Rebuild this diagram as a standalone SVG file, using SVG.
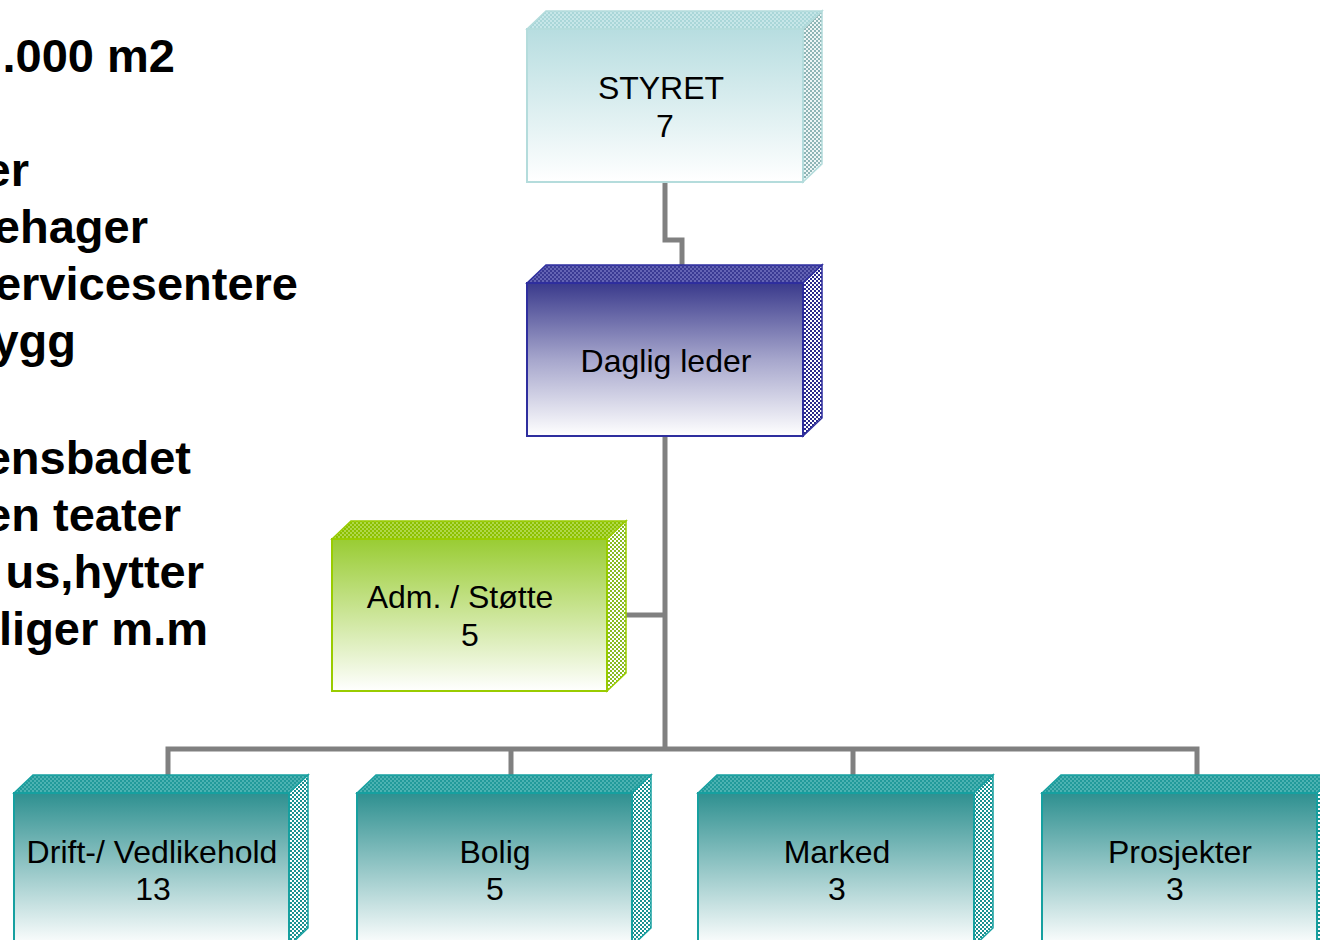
<svg xmlns="http://www.w3.org/2000/svg" width="1320" height="940" viewBox="0 0 1320 940">
<defs>
<style>
.lbl{font-family:"Liberation Sans",Arial,sans-serif;font-size:32px;fill:#000;text-anchor:middle}
.big{font-family:"Liberation Sans",Arial,sans-serif;font-size:47px;font-weight:bold;fill:#000;text-anchor:end}
.conn{fill:none;stroke:#808080;stroke-width:5}
</style>
<linearGradient id="gS" x1="0" y1="0" x2="0" y2="1"><stop offset="0" stop-color="#b7dde0"/><stop offset="1" stop-color="#ffffff"/></linearGradient>
<linearGradient id="gD" x1="0" y1="0" x2="0" y2="1"><stop offset="0" stop-color="#3a3a8c"/><stop offset="0.5" stop-color="#a6a6cc"/><stop offset="1" stop-color="#ffffff"/></linearGradient>
<linearGradient id="gA" x1="0" y1="0" x2="0" y2="1"><stop offset="0" stop-color="#99cc33"/><stop offset="1" stop-color="#ffffff"/></linearGradient>
<linearGradient id="gT" x1="0" y1="0" x2="0" y2="1"><stop offset="0" stop-color="#2e9090"/><stop offset="1" stop-color="#ffffff"/></linearGradient>
<pattern id="pSt" width="4" height="4" patternUnits="userSpaceOnUse"><rect width="4" height="4" fill="#c6e6e8"/><rect width="2" height="2" fill="#a9d6d8"/><rect x="2" y="2" width="2" height="2" fill="#a9d6d8"/></pattern>
<pattern id="pSs" width="4" height="4" patternUnits="userSpaceOnUse"><rect width="4" height="4" fill="#eef6f6"/><rect width="2" height="2" fill="#8fb5b6"/><rect x="2" y="2" width="2" height="2" fill="#8fb5b6"/></pattern>
<pattern id="pDt" width="4" height="4" patternUnits="userSpaceOnUse"><rect width="4" height="4" fill="#6464b4"/><rect width="2" height="2" fill="#3a3a94"/><rect x="2" y="2" width="2" height="2" fill="#3a3a94"/></pattern>
<pattern id="pDs" width="4" height="4" patternUnits="userSpaceOnUse"><rect width="4" height="4" fill="#ffffff"/><rect width="2" height="2" fill="#2a2a8a"/><rect x="2" y="2" width="2" height="2" fill="#2a2a8a"/></pattern>
<pattern id="pAt" width="4" height="4" patternUnits="userSpaceOnUse"><rect width="4" height="4" fill="#b0d84a"/><rect width="2" height="2" fill="#8cc000"/><rect x="2" y="2" width="2" height="2" fill="#8cc000"/></pattern>
<pattern id="pAs" width="4" height="4" patternUnits="userSpaceOnUse"><rect width="4" height="4" fill="#ffffff"/><rect width="2" height="2" fill="#88bb22"/><rect x="2" y="2" width="2" height="2" fill="#88bb22"/></pattern>
<pattern id="pTt" width="4" height="4" patternUnits="userSpaceOnUse"><rect width="4" height="4" fill="#4cb2b2"/><rect width="2" height="2" fill="#219a9a"/><rect x="2" y="2" width="2" height="2" fill="#219a9a"/></pattern>
<pattern id="pTs" width="4" height="4" patternUnits="userSpaceOnUse"><rect width="4" height="4" fill="#ffffff"/><rect width="2" height="2" fill="#1a9090"/><rect x="2" y="2" width="2" height="2" fill="#1a9090"/></pattern>
</defs>
<rect width="1320" height="940" fill="#ffffff"/>

<g id="sidetext">
<text class="big" x="175" y="72">.000 m2</text>
<text class="big" x="29" y="186">er</text>
<text class="big" x="148" y="243">ehager</text>
<text class="big" x="298" y="300">ervicesentere</text>
<text class="big" x="76" y="357">ygg</text>
<text class="big" x="191" y="474">ensbadet</text>
<text class="big" x="181" y="531">en teater</text>
<text class="big" x="204" y="588">us,hytter</text>
<text class="big" x="208" y="645">liger m.m</text>
</g>

<g id="connectors">
<path class="conn" d="M665,182 V240 H682 V265"/>
<path class="conn" d="M665,436 V749"/>
<path class="conn" d="M626,615 H665"/>
<path class="conn" d="M168,775 V749 H1197 V775"/>
<path class="conn" d="M511,749 V775"/>
<path class="conn" d="M853,749 V775"/>
</g>

<g id="styret">
<polygon points="527,29 546,11 822,11 803,29" fill="url(#pSt)" stroke="#b4dcdc" stroke-width="1.5"/>
<polygon points="803,29 822,11 822,164 803,182" fill="url(#pSs)" stroke="#b4dcdc" stroke-width="1.5"/>
<rect x="527" y="29" width="276" height="153" fill="url(#gS)" stroke="#b4dcdc" stroke-width="2"/>
<text class="lbl" x="661" y="99">STYRET</text>
<text class="lbl" x="665" y="137">7</text>
</g>

<g id="daglig">
<polygon points="527,283 546,265 822,265 803,283" fill="url(#pDt)" stroke="#2e2e9e" stroke-width="1.5"/>
<polygon points="803,283 822,265 822,418 803,436" fill="url(#pDs)" stroke="#2e2e9e" stroke-width="1.5"/>
<rect x="527" y="283" width="276" height="153" fill="url(#gD)" stroke="#2e2e9e" stroke-width="2"/>
<text class="lbl" x="666" y="372">Daglig leder</text>
</g>

<g id="adm">
<polygon points="332,539 351,521 626,521 607,539" fill="url(#pAt)" stroke="#99cc00" stroke-width="1.5"/>
<polygon points="607,539 626,521 626,673 607,691" fill="url(#pAs)" stroke="#99cc00" stroke-width="1.5"/>
<rect x="332" y="539" width="275" height="152" fill="url(#gA)" stroke="#99cc00" stroke-width="2"/>
<text class="lbl" x="460" y="608">Adm. / Støtte</text>
<text class="lbl" x="470" y="646">5</text>
</g>

<g id="drift">
<polygon points="14,793 33,775 308,775 289,793" fill="url(#pTt)" stroke="#16a0a0" stroke-width="1.5"/>
<polygon points="289,793 308,775 308,928 289,946" fill="url(#pTs)" stroke="#16a0a0" stroke-width="1.5"/>
<rect x="14" y="793" width="275" height="153" fill="url(#gT)" stroke="#16a0a0" stroke-width="2"/>
<text class="lbl" x="152" y="863">Drift-/ Vedlikehold</text>
<text class="lbl" x="153" y="900">13</text>
</g>

<g id="bolig">
<polygon points="357,793 376,775 651,775 632,793" fill="url(#pTt)" stroke="#16a0a0" stroke-width="1.5"/>
<polygon points="632,793 651,775 651,928 632,946" fill="url(#pTs)" stroke="#16a0a0" stroke-width="1.5"/>
<rect x="357" y="793" width="275" height="153" fill="url(#gT)" stroke="#16a0a0" stroke-width="2"/>
<text class="lbl" x="495" y="863">Bolig</text>
<text class="lbl" x="495" y="900">5</text>
</g>

<g id="marked">
<polygon points="698,793 717,775 993,775 974,793" fill="url(#pTt)" stroke="#16a0a0" stroke-width="1.5"/>
<polygon points="974,793 993,775 993,928 974,946" fill="url(#pTs)" stroke="#16a0a0" stroke-width="1.5"/>
<rect x="698" y="793" width="276" height="153" fill="url(#gT)" stroke="#16a0a0" stroke-width="2"/>
<text class="lbl" x="837" y="863">Marked</text>
<text class="lbl" x="837" y="900">3</text>
</g>

<g id="prosjekter">
<polygon points="1042,793 1061,775 1336,775 1317,793" fill="url(#pTt)" stroke="#16a0a0" stroke-width="1.5"/>
<polygon points="1317,793 1336,775 1336,928 1317,946" fill="url(#pTs)" stroke="#16a0a0" stroke-width="1.5"/>
<rect x="1042" y="793" width="275" height="153" fill="url(#gT)" stroke="#16a0a0" stroke-width="2"/>
<text class="lbl" x="1180" y="863">Prosjekter</text>
<text class="lbl" x="1175" y="900">3</text>
</g>
</svg>
